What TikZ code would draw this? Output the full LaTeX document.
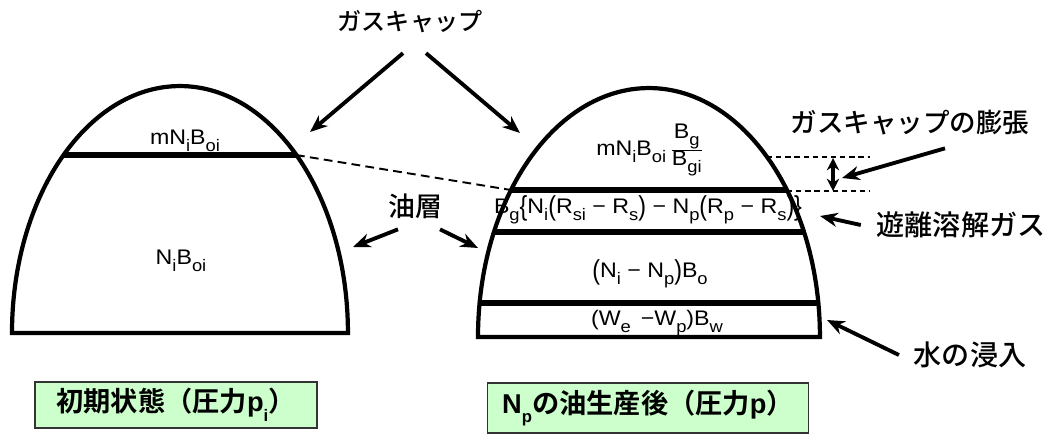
\documentclass[tikz,border=0pt]{standalone}
\usepackage{fontspec}
\setmainfont{Liberation Sans}
\newfontfamily\eqf[FakeStretch=1.1]{Liberation Sans}
\newfontfamily\jp{Noto Sans CJK JP Medium}
\newfontfamily\jpb{Noto Sans CJK JP Bold}
\usetikzlibrary{arrows.meta,calc}

\definecolor{boxgreen}{RGB}{204,255,204}

% lowered index and stretched brackets for the balance terms
\newcommand{\sbs}[1]{\raisebox{-0.35em}{\fontsize{9.5}{9.5}\selectfont #1}}
\newcommand{\tall}[1]{\raisebox{-0.12em}{\scalebox{1}[1.3]{#1}}}
\newcommand{\bx}{\bfseries\fontsize{15.5}{15.5}\selectfont}
\newcommand{\jbx}{\jpb\fontsize{15.5}{15.5}\selectfont}

\begin{document}
\begin{tikzpicture}[x=0.02cm, y=-0.02cm, line width=2.4pt,
  arr/.style={-{Stealth[length=10pt, width=8pt]}, line width=2.2pt},
  layer/.style={line width=3pt},
  lbl/.style={font=\jp\fontsize{#1}{#1}\selectfont, inner sep=1pt},
  eq/.style={font=\eqf\fontsize{12}{12}\selectfont, inner sep=0pt},
  state/.style={draw=black!80, line width=0.8pt, fill=boxgreen, inner sep=0pt}]
\useasboundingbox (0,0) rectangle (1057,434);

% contents of the two reservoirs
\node[eq] (gasi) at (185,141) {mN\sbs{i}B\sbs{oi}};
\node[eq] (oili) at (181,261) {N\sbs{i}B\sbs{oi}};
\node[eq] (gasp) at (650,150) {mN\sbs{i}B\sbs{oi}\,$\frac{\mbox{B\sbs{g}}}{\mbox{B\sbs{gi}}}$};
\node[eq] (solg) at (648,210) {B\sbs{g}\tall{\{}N\sbs{i}\tall{(}R\sbs{si} − R\sbs{s}\tall{)} − N\sbs{p}\tall{(}R\sbs{p} − R\sbs{s}\tall{)}\tall{\}}};
\node[eq] (oilp) at (650,274) {\tall{(}N\sbs{i} − N\sbs{p}\tall{)}B\sbs{o}};
\node[eq] (watp) at (657,323) {(W\sbs{e}\, −W\sbs{p})B\sbs{w}};

% initial state
\begin{scope}
\clip (12,333) arc[start angle=180, end angle=0, x radius=3.36cm, y radius=4.94cm] -- cycle;
\draw[layer] (0,155) -- (400,155);
\end{scope}
\draw (12,333) arc[start angle=180, end angle=0, x radius=3.36cm, y radius=4.94cm] -- cycle;

% after production
\begin{scope}
\clip (478,337) arc[start angle=180, end angle=0, x radius=3.42cm, y radius=4.98cm] -- cycle;
\draw[layer] (450,190) -- (850,190);
\draw[layer] (450,232) -- (850,232);
\draw[layer] (450,303) -- (850,303);
\end{scope}
\draw (478,337) arc[start angle=180, end angle=0, x radius=3.42cm, y radius=4.98cm] -- cycle;

\coordinate (gocL) at (296,155);
\coordinate (gocR) at (511,190);
\coordinate (topR) at (767,157);
\coordinate (topE) at (870,157);
\coordinate (botR) at (787,191);
\coordinate (botE) at (870,191);
\coordinate (expA) at (833,158);
\coordinate (expB) at (833,191);
\draw[line width=1.1pt, dash pattern=on 5pt off 3pt] (gocL) -- (gocR);
\draw[line width=1.1pt, dash pattern=on 3pt off 2.2pt] (topR) -- (topE);
\draw[line width=1.1pt, dash pattern=on 3pt off 2.2pt] (botR) -- (botE);
\draw[{Stealth[length=7pt, width=7pt]}-{Stealth[length=7pt, width=7pt]}, line width=1.8pt] (expA) -- (expB);

% labels
\node[lbl=13.7] (cap) at (410,22) {ガスキャップ};
\node[lbl=15.3] (oil) at (415,206) {油層};
\node[lbl=15.1] (exp) at (910,123) {ガスキャップの膨張};
\node[lbl=16] (free) at (961,225) {遊離溶解ガス};
\node[lbl=16] (water) at (970,355) {水の浸入};

\coordinate (capL) at (310,132);
\coordinate (capR) at (520,133);
\coordinate (oilL) at (353,247);
\coordinate (oilR) at (478,248);
\coordinate (expT) at (842,178);
\coordinate (freeT) at (820,216);
\coordinate (watT) at (827,320);
\draw[arr] ($(cap.south)+(-7,16)$) -- (capL);
\draw[arr] ($(cap.south)+(16,16)$) -- (capR);
\draw[arr] ($(oil.south)+(-17,7)$) -- (oilL);
\draw[arr] ($(oil.south)+(25,7)$) -- (oilR);
\draw[arr] ($(exp.south)+(35,9)$) -- (expT);
\draw[arr] ($(free.west)+(-12,0)$) -- (freeT);
\draw[arr] ($(water.west)+(-11,0)$) -- (watT);

% states
\node[state, minimum width=5.64cm, minimum height=0.92cm] (init) at (176,405)
  {{\jbx 初期状態（圧力}{\bx p\sbs{i}}{\jbx ）}};
\node[state, minimum width=6.42cm, minimum height=1cm] (after) at (648,408)
  {{\bx N\sbs{p}}{\jbx の油生産後（圧力}{\bx p}{\jbx ）}};
\end{tikzpicture}
\end{document}
